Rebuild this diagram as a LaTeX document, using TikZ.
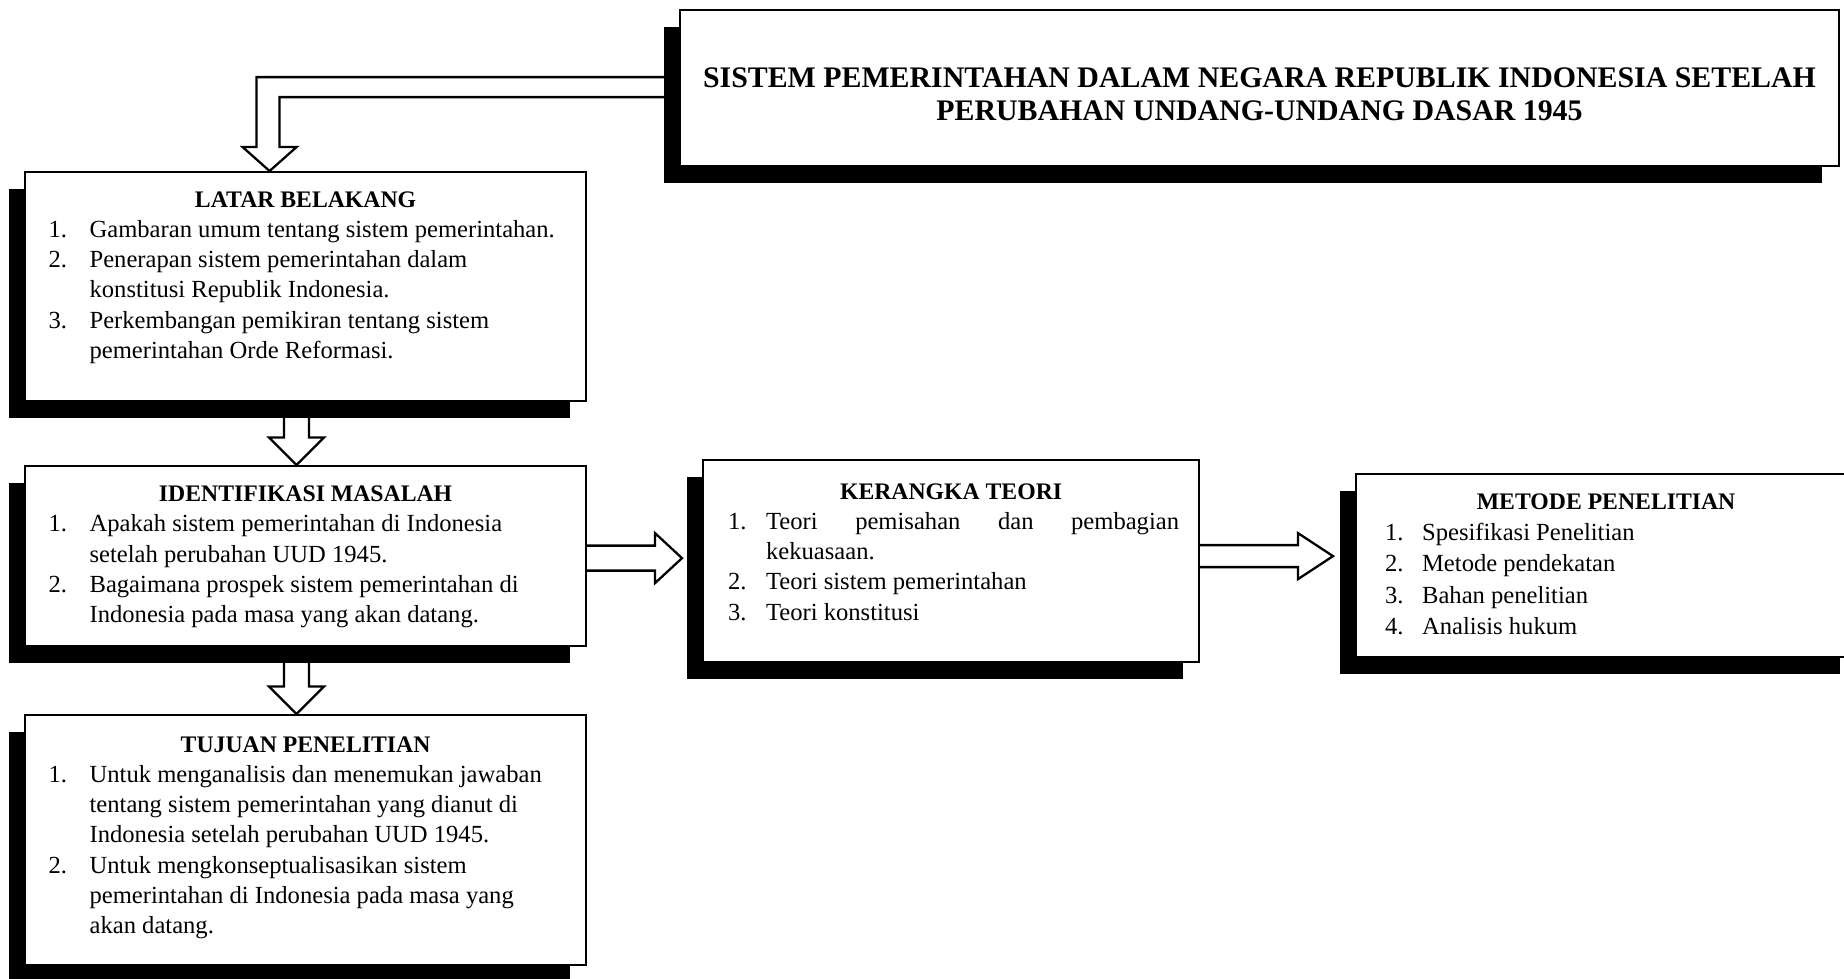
\documentclass[tikz,border=0pt]{standalone}
\usepackage{fontspec}
\setmainfont{Liberation Serif}
\usetikzlibrary{calc,shadows,backgrounds}

\tikzset{
  box/.style={draw, line width=1.3pt, fill=white, anchor=north west, inner sep=0pt,
    font=\fontsize{14}{17.2}\selectfont,
    drop shadow={shadow xshift=-0.33cm, shadow yshift=-0.33cm, opacity=1, fill=black}},
  hollow/.style={draw, line width=1.3pt, fill=white, line join=miter},
}
\newcommand{\heading}[1]{\multicolumn{2}{c}{\fontsize{13.5}{17.2}\selectfont\bfseries #1}}

\begin{document}
\begin{tikzpicture}[x=0.02cm, y=-0.02cm]
  \useasboundingbox (0,0) rectangle (1844,978);
  \clip (0,0) rectangle (1844,978);

  % judul
  \node[box, minimum width=23.18cm, minimum height=3.12cm,
        font=\fontsize{17}{18.8}\selectfont\bfseries] (title) at (679,9)
    {\begin{tabular}{c}\noalign{\vskip 0.38cm}
      SISTEM PEMERINTAHAN DALAM NEGARA REPUBLIK INDONESIA SETELAH\\
      PERUBAHAN UNDANG-UNDANG DASAR 1945
     \end{tabular}};

  % kolom kiri
  \node[box, minimum width=11.22cm, minimum height=4.58cm] (latar) at (24,171)
    {\begin{tabular}{@{}p{0.82cm}@{}p{9.46cm}@{}}
      \heading{LATAR BELAKANG}\\
      1. & Gambaran umum tentang sistem pemerintahan.\\
      2. & Penerapan sistem pemerintahan dalam\\
         & konstitusi Republik Indonesia.\\
      3. & Perkembangan pemikiran tentang sistem\\
         & pemerintahan Orde Reformasi.\\
      \noalign{\vskip 0.4cm}
     \end{tabular}};

  \node[box, minimum width=11.22cm, minimum height=3.6cm] (ident) at (24,465)
    {\begin{tabular}{@{}p{0.82cm}@{}p{9.46cm}@{}}
      \heading{IDENTIFIKASI MASALAH}\\
      1. & Apakah sistem pemerintahan di Indonesia\\
         & setelah perubahan UUD 1945.\\
      2. & Bagaimana prospek sistem pemerintahan di\\
         & Indonesia pada masa yang akan datang.\\
     \end{tabular}};

  \node[box, minimum width=11.22cm, minimum height=5cm] (tujuan) at (24,714)
    {\begin{tabular}{@{}p{0.82cm}@{}p{9.46cm}@{}}
      \heading{TUJUAN PENELITIAN}\\
      1. & Untuk menganalisis dan menemukan jawaban\\
         & tentang sistem pemerintahan yang dianut di\\
         & Indonesia setelah perubahan UUD 1945.\\
      2. & Untuk mengkonseptualisasikan sistem\\
         & pemerintahan di Indonesia pada masa yang\\
         & akan datang.\\
      \noalign{\vskip 0.13cm}
     \end{tabular}};

  % tengah dan kanan
  \node[box, minimum width=9.92cm, minimum height=4.04cm] (kerangka) at (702,459)
    {\begin{tabular}{@{}p{0.76cm}@{}p{8.16cm}@{}}
      \heading{KERANGKA TEORI}\\
      1. & \makebox[0pt][l]{\makebox[8.26cm][s]{Teori pemisahan dan pembagian}}\\
         & kekuasaan.\\
      2. & Teori sistem pemerintahan\\
      3. & Teori konstitusi\\
      \noalign{\vskip 0.3cm}
     \end{tabular}};

  \node[box, minimum width=10cm, minimum height=3.66cm,
        font=\fontsize{14}{17.8}\selectfont] (metode) at (1355,473)
    {\begin{tabular}{@{}p{0.74cm}@{}p{8.1cm}@{}}
      \heading{METODE PENELITIAN}\\
      1. & Spesifikasi Penelitian\\
      2. & Metode pendekatan\\
      3. & Bahan penelitian\\
      4. & Analisis hukum\\
     \end{tabular}};

  % panah
  \begin{scope}[on background layer]
    \draw[hollow] let \p1=(title.west), \p2=($(latar.north)+(-36,0)$) in
      (\x1,\y1+0.22cm) -- (\x2-0.26cm,\y1+0.22cm) -- (\x2-0.26cm,\y2+0.48cm)
      -- (\x2-0.54cm,\y2+0.48cm) -- (\x2,\y2) -- (\x2+0.54cm,\y2+0.48cm)
      -- (\x2+0.2cm,\y2+0.48cm) -- (\x2+0.2cm,\y1-0.18cm) -- (\x1,\y1-0.18cm);
    \foreach \a/\b in {latar/ident, ident/tujuan}
      \draw[hollow] let \p1=($(\a.south)+(-9,0)$), \p2=($(\b.north)+(-9,0)$) in
        (\x1-0.25cm,\y1) -- (\x1-0.25cm,\y2+0.55cm) -- (\x1-0.55cm,\y2+0.55cm)
        -- (\x1,\y2) -- (\x1+0.55cm,\y2+0.55cm) -- (\x1+0.25cm,\y2+0.55cm)
        -- (\x1+0.25cm,\y1);
    \draw[hollow] let \p1=($(ident.east)+(0,2)$), \p2=($(kerangka.west)+(-20,0)$) in
      (\x1,\y1+0.25cm) -- (\x2-0.54cm,\y1+0.25cm) -- (\x2-0.54cm,\y1+0.5cm)
      -- (\x2,\y1) -- (\x2-0.54cm,\y1-0.5cm) -- (\x2-0.54cm,\y1-0.25cm)
      -- (\x1,\y1-0.25cm);
    \draw[hollow] let \p1=($(kerangka.east)+(0,-5)$), \p2=($(metode.west)+(-22,0)$) in
      (\x1,\y1+0.22cm) -- (\x2-0.7cm,\y1+0.22cm) -- (\x2-0.7cm,\y1+0.46cm)
      -- (\x2,\y1) -- (\x2-0.7cm,\y1-0.46cm) -- (\x2-0.7cm,\y1-0.22cm)
      -- (\x1,\y1-0.22cm);
  \end{scope}
\end{tikzpicture}
\end{document}
